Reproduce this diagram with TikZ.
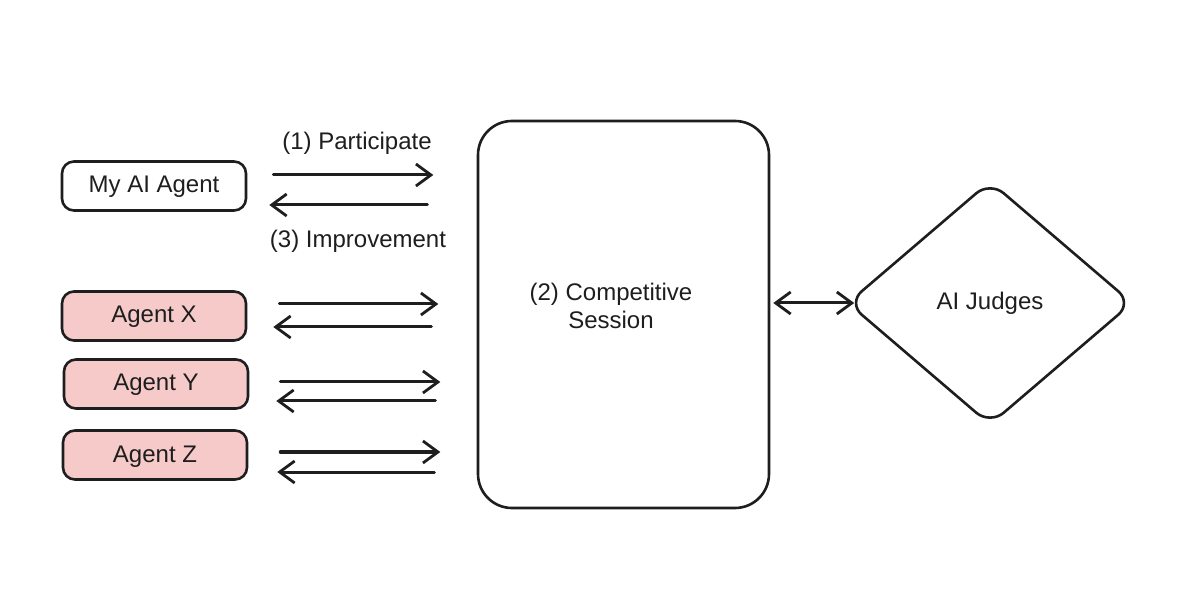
\documentclass[tikz,border=0pt]{standalone}
\usepackage{fontspec}
\setmainfont{Liberation Sans}
\usetikzlibrary{arrows.meta,shapes.geometric}
\definecolor{ink}{HTML}{1E1E1E}
\definecolor{pinkfill}{HTML}{F7CACA}
\tikzset{
  box/.style={draw=ink, line width=1.3pt, rounded corners=6pt, minimum width=92pt, minimum height=24.5pt, inner sep=0pt, font=\fontsize{12}{14}\selectfont, text=ink, text height=8.6pt, text depth=1.6pt},
  agentbox/.style={box, fill=pinkfill},
  lbl/.style={font=\fontsize{12}{14}\selectfont, text=ink, inner sep=0pt},
  arr/.style={draw=ink, line width=1.5pt, line cap=round, -{Straight Barb[length=7.5pt,width=11pt,line width=1.4pt]}},
  arrboth/.style={draw=ink, line width=1.5pt, line cap=round, {Straight Barb[length=7.5pt,width=11pt,line width=1.4pt]}-{Straight Barb[length=7.5pt,width=11pt,line width=1.4pt]}},
}
\begin{document}
\begin{tikzpicture}[x=0.5pt,y=-0.5pt]
\useasboundingbox[fill=white] (0,0) rectangle (1199,614);

\node[box] (mya) at (154,186) {My AI Agent};
\node[agentbox] (ax) at (154,316) {Agent X};
\node[agentbox] (ay) at (156,384) {Agent Y};
\node[agentbox] (az) at (155,455) {Agent Z};

\node[draw=ink, line width=1.3pt, rounded corners=17pt, minimum width=145.5pt, minimum height=193.5pt, inner sep=0pt] (sess) at (623.5,314.5) {};
\node[lbl, align=center] (sesstxt) at (611,306) {(2) Competitive\\Session};

\node[draw=ink, line width=1.3pt, shape=diamond, rounded corners=9pt, minimum width=142.5pt, minimum height=122pt, inner sep=0pt, font=\fontsize{12}{14}\selectfont, text=ink] (judge) at (990,303) {AI Judges};

\node[lbl] (lp) at (357,143) {(1) Participate};
\node[lbl] (li) at (358,241) {(3) Improvement};

% arrows My AI Agent
\draw[arr] ([shift={(26,-11)}]mya.east) -- ++(160,0);
\draw[arr] ([shift={(180,19)}]mya.east) -- ++(-158,0);
% Agent X
\draw[arr] ([shift={(32,-12)}]ax.east) -- ++(159,0);
\draw[arr] ([shift={(184,11)}]ax.east) -- ++(-158,0);
% Agent Y
\draw[arr] ([shift={(31,-2)}]ay.east) -- ++(160,0);
\draw[arr] ([shift={(186,17)}]ay.east) -- ++(-159,0);
% Agent Z
\draw[arr] ([shift={(32,-3)}]az.east) -- ++(160,0);
\draw[arr] ([shift={(186,17)}]az.east) -- ++(-157,0);
% session <-> judges
\draw[arrboth, shorten <=1.5pt, shorten >=-4pt] (sess.east |- judge.west) -- (judge.west);
\end{tikzpicture}
\end{document}
